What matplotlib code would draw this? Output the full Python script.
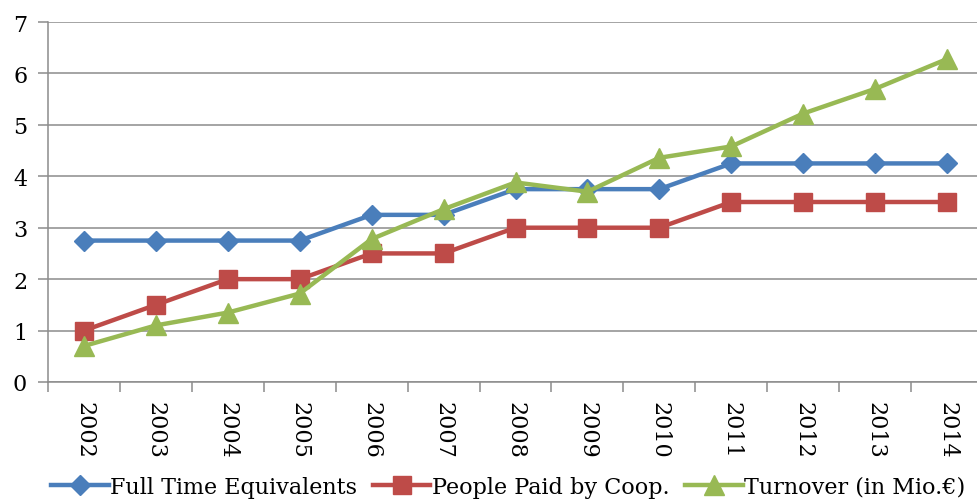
import numpy as np
import matplotlib
matplotlib.use('Agg')
import matplotlib.pyplot as plt
from matplotlib.ticker import FixedLocator

years = ['2002', '2003', '2004', '2005', '2006', '2007', '2008',
         '2009', '2010', '2011', '2012', '2013', '2014']
fte = [2.75, 2.75, 2.75, 2.75, 3.25, 3.25, 3.75, 3.75, 3.75, 4.25, 4.25, 4.25, 4.25]
paid = [1.0, 1.5, 2.0, 2.0, 2.5, 2.5, 3.0, 3.0, 3.0, 3.5, 3.5, 3.5, 3.5]
turnover = [0.7, 1.1, 1.35, 1.72, 2.78, 3.36, 3.88, 3.7, 4.36, 4.58, 5.22, 5.7, 6.28]

plt.rcParams['font.family'] = 'DejaVu Serif'
plt.rcParams['font.size'] = 16

grid_col = '#8c8c8c'

fig = plt.figure(figsize=(9.77, 5.02), dpi=100)
ax = fig.add_axes([48/977, 1-383/502, 935/977, 360/502])

x = np.arange(len(years))
ax.plot(x, fte, color='#4A7EBB', lw=3.2, marker='D', ms=10, label='Full Time Equivalents', zorder=3)
ax.plot(x, paid, color='#BE4B48', lw=3.2, marker='s', ms=13, label='People Paid by Coop.', zorder=4)
ax.plot(x, turnover, color='#98B954', lw=3.2, marker='^', ms=14, label='Turnover (in Mio.€)', zorder=5)

ax.set_xlim(-0.5, len(years)-0.5)
ax.set_ylim(0, 7)
ax.set_yticks(range(0, 8))
ax.set_xticks(x)
ax.set_xticklabels(years, rotation=-90)
ax.xaxis.set_minor_locator(FixedLocator(np.arange(-0.5, len(years), 1.0)))
ax.tick_params(axis='x', which='major', length=0, pad=14)
ax.tick_params(axis='x', which='minor', length=7, width=1.1, color=grid_col)
ax.tick_params(axis='y', length=7, width=1.1, color=grid_col, pad=8)

ax.grid(axis='y', color=grid_col, lw=1.1)
ax.set_axisbelow(True)
for s in ['top', 'right']:
    ax.spines[s].set_visible(False)
for s in ['left', 'bottom']:
    ax.spines[s].set_color(grid_col)
    ax.spines[s].set_linewidth(1.1)

fig.legend(loc='center', bbox_to_anchor=(0.52, 1-488/502), ncol=3, frameon=False,
           handlelength=2.6, handletextpad=0.05, columnspacing=0.7, borderaxespad=0)

fig.savefig('out.png', dpi=100)
